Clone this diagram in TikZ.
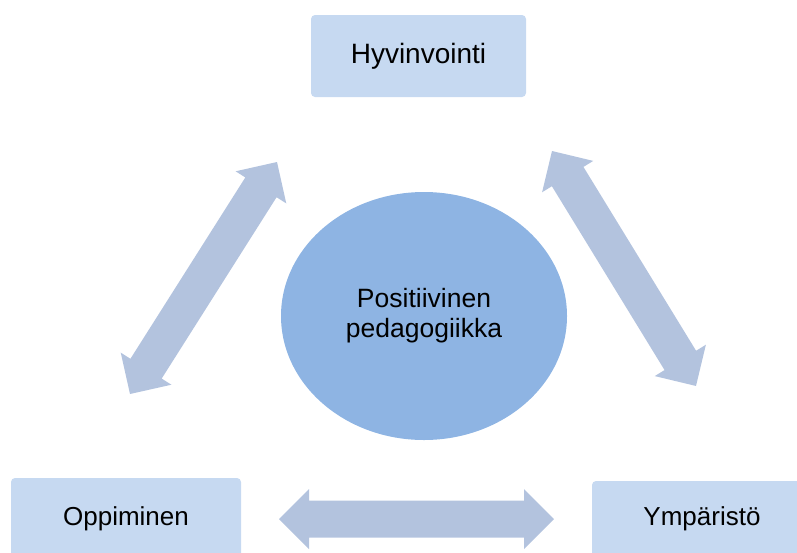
\documentclass[tikz,border=0pt]{standalone}
\usepackage{fontspec}
\setmainfont{Liberation Sans}
\usetikzlibrary{calc,shapes.geometric}
\definecolor{boxfill}{HTML}{C6D9F1}
\definecolor{arrowfill}{HTML}{B3C3DE}
\definecolor{circfill}{HTML}{8EB4E3}
\tikzset{
  box/.style={fill=boxfill, rounded corners=4pt, inner sep=0pt, text=black},
  hub/.style={ellipse, fill=circfill, minimum width=286pt, minimum height=248pt, inner sep=0pt, align=center, font=\fontsize{26.5}{30}\selectfont},
  blockarrow/.style={fill=arrowfill}
}
\newcommand\blockarr[2]{%
  \fill[blockarrow] let \p1=($(#2)-(#1)$), \n1={atan2(\y1,\x1)}, \n2={veclen(\x1,\y1)} in
    [shift={(#1)}, rotate=\n1]
    (0pt,0pt) -- (30pt,30pt) -- (30pt,18.5pt) -- ({\n2-30pt},18.5pt) -- ({\n2-30pt},30pt)
    -- (\n2,0pt) -- ({\n2-30pt},-30pt) -- ({\n2-30pt},-18.5pt) -- (30pt,-18.5pt) -- (30pt,-30pt) -- cycle;}
\begin{document}
\begin{tikzpicture}[x=1pt,y=-1pt]
\useasboundingbox (0,0) rectangle (797,552);
\clip (0,0) rectangle (797,552);
% boxes
\node[box, minimum width=215pt, minimum height=82pt, font=\fontsize{28}{32}\selectfont] (hyv) at (418.5,56) {Hyvinvointi};
\node[box, minimum width=230pt, minimum height=82pt, font=\fontsize{26}{30}\selectfont] (opp) at (126,519) {Oppiminen};
\node[box, minimum width=220pt, minimum height=76pt, font=\fontsize{26}{30}\selectfont] (ymp) at (702,519) {Ympäristö};
% hub
\node[hub] (pp) at (424,316) {Positiivinen\\pedagogiikka};
% arrow ends
\coordinate (a1) at (130,394);
\coordinate (a2) at (277,162);
\coordinate (b1) at (552,151);
\coordinate (b2) at (696,386);
\coordinate (c1) at (279,519);
\coordinate (c2) at (554,519);
\blockarr{a1}{a2}
\blockarr{b1}{b2}
\blockarr{c1}{c2}
\end{tikzpicture}
\end{document}
